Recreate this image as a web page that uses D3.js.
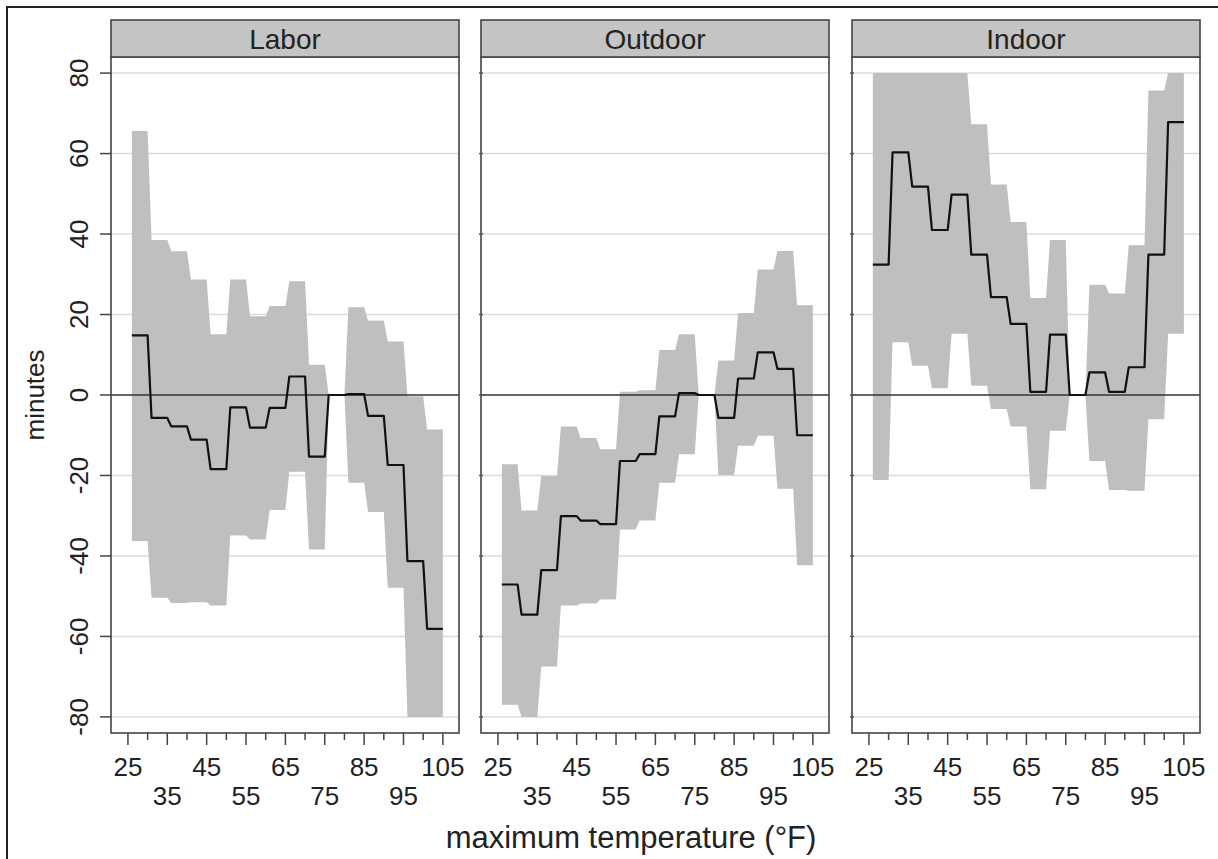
<!DOCTYPE html>
<html>
<head>
<meta charset="utf-8">
<script src="https://cdn.jsdelivr.net/npm/d3@7"></script>
<style>
  html, body { margin: 0; padding: 0; background: #fff; }
  svg { display: block; }
  text { font-family: "Liberation Sans", Arial, Helvetica, sans-serif; fill: #222; }
</style>
</head>
<body>
<svg id="chart" width="1218" height="859"></svg>
<script>
// ---- data ----
const panels = ["Labor", "Outdoor", "Indoor"];
const binLo = [26, 31, 36, 41, 46, 51, 56, 61, 66, 71, 76, 81, 86, 91, 96, 101];
const binHi = [30, 35, 40, 45, 50, 55, 60, 65, 70, 75, 80, 85, 90, 95, 100, 105];

const laborEst   = [14.8, -5.7, -7.8, -11.1, -18.4, -3.1, -8.1, -3.2, 4.6, -15.3, 0, 0.2, -5.2, -17.4, -41.3, -58.1];
const laborUpper = [65.6, 38.5, 35.7, 28.7, 15.1, 28.7, 19.6, 22.1, 28.3, 7.5, 0, 21.8, 18.5, 13.3, -0.3, -8.6];
const laborLower = [-36.3, -50.4, -51.7, -51.5, -52.3, -34.9, -35.9, -28.6, -19.1, -38.4, 0, -21.8, -29.1, -47.9, -80, -80];

const outdoorEst   = [-47.1, -54.6, -43.5, -30.1, -31.2, -32.1, -16.4, -14.7, -5.3, 0.5, 0, -5.7, 4.1, 10.6, 6.5, -10.0];
const outdoorUpper = [-17.2, -28.7, -20.1, -7.8, -10.7, -13.5, 0.8, 1.2, 11.2, 15.1, 0, 8.6, 20.4, 31.2, 35.8, 22.3];
const outdoorLower = [-77.0, -80, -67.5, -52.3, -51.8, -50.8, -33.4, -31.2, -21.8, -14.7, 0, -19.9, -12.6, -10.1, -23.3, -42.3];

const indoorEst   = [32.4, 60.3, 51.8, 41.0, 49.8, 34.9, 24.3, 17.7, 0.8, 15.0, 0, 5.6, 0.8, 6.9, 34.9, 67.8];
const indoorUpper = [80, 80, 80, 80, 80, 67.3, 52.3, 43.0, 24.1, 38.5, 0, 27.4, 25.2, 37.2, 75.7, 80];
const indoorLower = [-21.1, 13.1, 7.3, 1.7, 15.2, 2.3, -3.5, -7.8, -23.4, -8.9, 0, -16.4, -23.6, -23.8, -6.0, 15.2];

const xLabelTicks = [25, 35, 45, 55, 65, 75, 85, 95, 105];
const xMinorTicks = [30, 40, 50, 60, 70, 80, 90, 100];
const yTicks = [-80, -60, -40, -20, 0, 20, 40, 60, 80];

const seriesEst = [laborEst, outdoorEst, indoorEst];
const seriesUpper = [laborUpper, outdoorUpper, indoorUpper];
const seriesLower = [laborLower, outdoorLower, indoorLower];

// ---- layout ----
const svg = d3.select("#chart");
const panelX = [111, 481, 852];
const panelW = 348;
const stripTop = 20, plotTop = 57, plotBottom = 733;
const y = d3.scaleLinear().domain([-84, 84]).range([plotBottom, plotTop]);

svg.append("rect").attr("x", 0).attr("y", 0).attr("width", 1218).attr("height", 859).attr("fill", "#fff");
svg.append("rect").attr("x", 7).attr("y", 7).attr("width", 1260).attr("height", 900)
  .attr("fill", "none").attr("stroke", "#222").attr("stroke-width", 2);

panels.forEach((name, i) => {
  const x0 = panelX[i];
  const x = d3.scaleLinear().domain([20.7, 109.1]).range([x0, x0 + panelW]);
  const g = svg.append("g");

  // step data
  const pts = [];
  binLo.forEach((lo, k) => {
    pts.push({ t: lo, est: seriesEst[i][k], up: seriesUpper[i][k], lo: seriesLower[i][k] });
    pts.push({ t: binHi[k], est: seriesEst[i][k], up: seriesUpper[i][k], lo: seriesLower[i][k] });
  });

  // gridlines
  g.selectAll("line.grid").data(yTicks.filter(v => v !== 0)).join("line")
    .attr("x1", x0).attr("x2", x0 + panelW)
    .attr("y1", d => y(d)).attr("y2", d => y(d))
    .attr("stroke", "#dcdcdc").attr("stroke-width", 1.5);

  // band
  g.append("path").datum(pts)
    .attr("d", d3.area().x(d => x(d.t)).y0(d => y(d.lo)).y1(d => y(d.up)))
    .attr("fill", "#bfbfbf");

  // zero line
  g.append("line").attr("x1", x0).attr("x2", x0 + panelW)
    .attr("y1", y(0)).attr("y2", y(0)).attr("stroke", "#333").attr("stroke-width", 1.6);

  // estimate line
  g.append("path").datum(pts)
    .attr("d", d3.line().x(d => x(d.t)).y(d => y(d.est)))
    .attr("fill", "none").attr("stroke", "#111").attr("stroke-width", 2.2)
    .attr("stroke-linejoin", "round");

  // panel border
  g.append("rect").attr("x", x0).attr("y", plotTop).attr("width", panelW).attr("height", plotBottom - plotTop)
    .attr("fill", "none").attr("stroke", "#444").attr("stroke-width", 1.6);

  // small ticks on panel left border at gridlines
  if (i > 0) {
    g.selectAll("line.lt").data(yTicks).join("line")
      .attr("x1", x0 - 2).attr("x2", x0 + 2)
      .attr("y1", d => y(d)).attr("y2", d => y(d))
      .attr("stroke", "#555").attr("stroke-width", 1.5);
  }

  // strip
  g.append("rect").attr("x", x0).attr("y", stripTop).attr("width", panelW).attr("height", plotTop - stripTop)
    .attr("fill", "#c4c4c4").attr("stroke", "#444").attr("stroke-width", 1.6);
  g.append("text").attr("x", x0 + panelW / 2).attr("y", (stripTop + plotTop) / 2 + 1)
    .attr("text-anchor", "middle").attr("dominant-baseline", "central")
    .style("font-size", "28px").text(name);

  // x ticks
  g.selectAll("line.maj").data(xLabelTicks).join("line")
    .attr("x1", d => x(d)).attr("x2", d => x(d))
    .attr("y1", plotBottom).attr("y2", plotBottom + 12)
    .attr("stroke", "#444").attr("stroke-width", 1.5);
  g.selectAll("line.min").data(xMinorTicks).join("line")
    .attr("x1", d => x(d)).attr("x2", d => x(d))
    .attr("y1", plotBottom).attr("y2", plotBottom + 7)
    .attr("stroke", "#444").attr("stroke-width", 1.5);
  g.selectAll("text.xl").data(xLabelTicks).join("text")
    .attr("x", d => x(d))
    .attr("y", (d, k) => k % 2 === 0 ? 767 : 796)
    .attr("text-anchor", "middle").attr("dominant-baseline", "central")
    .style("font-size", "26px").text(d => d);

  // y axis on first panel
  if (i === 0) {
    g.selectAll("line.yt").data(yTicks).join("line")
      .attr("x1", x0 - 11).attr("x2", x0)
      .attr("y1", d => y(d)).attr("y2", d => y(d))
      .attr("stroke", "#444").attr("stroke-width", 1.5);
    g.selectAll("text.yl").data(yTicks).join("text")
      .attr("transform", d => `translate(79,${y(d)}) rotate(-90)`)
      .attr("text-anchor", "middle").attr("dominant-baseline", "central")
      .style("font-size", "26px").text(d => d);
  }
});

svg.append("text").attr("transform", `translate(35,${y(0)}) rotate(-90)`)
  .attr("text-anchor", "middle").attr("dominant-baseline", "central")
  .style("font-size", "26px").text("minutes");

svg.append("text").attr("x", 631).attr("y", 837)
  .attr("text-anchor", "middle").attr("dominant-baseline", "central")
  .style("font-size", "31px").text("maximum temperature (°F)");
</script>
</body>
</html>
